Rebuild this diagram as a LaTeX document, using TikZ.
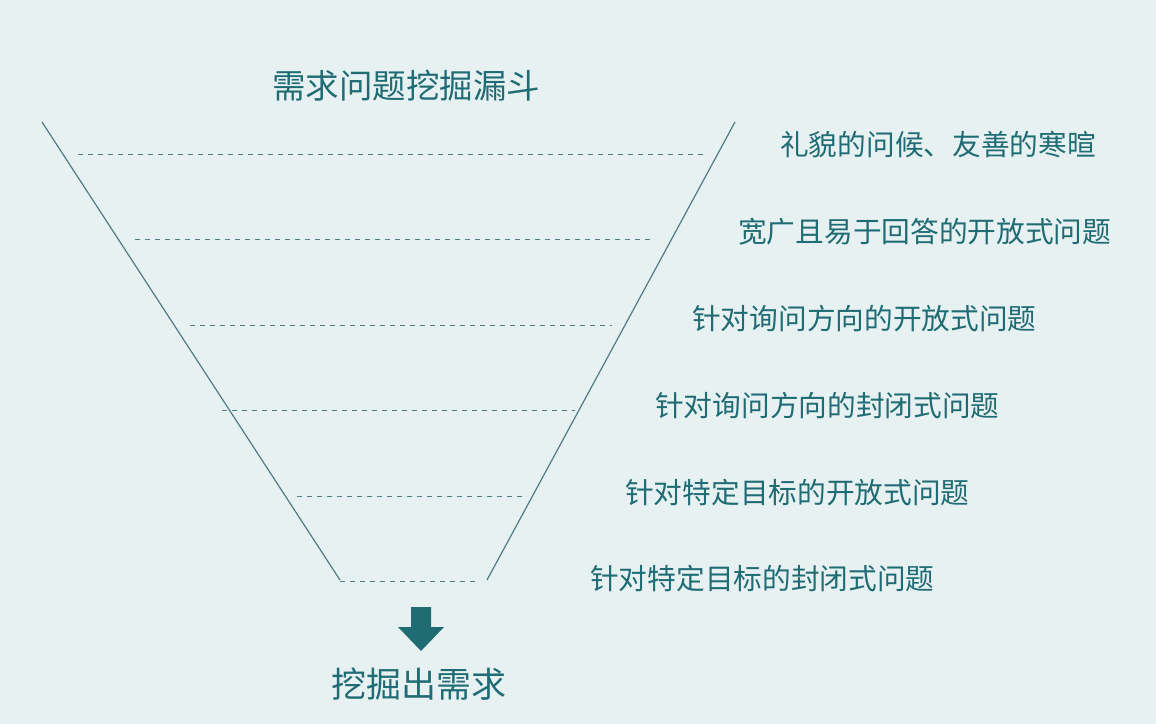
\documentclass[tikz,border=0pt]{standalone}
\usepackage{fontspec}
\newfontfamily\cjk{Noto Sans CJK SC}
\definecolor{bg}{HTML}{E8F1F2}
\definecolor{tc}{HTML}{1F6C74}
\definecolor{lc}{HTML}{4F7C84}
\begin{document}
\begin{tikzpicture}[x=1pt,y=-1pt,
  lbl/.style={anchor=west,text=tc,font=\cjk\fontsize{28.7}{32}\selectfont,inner sep=0},
  fun/.style={draw=lc,line width=1.2pt},
  dsh/.style={draw=lc,line width=1pt,dash pattern=on 5pt off 5pt}]
\fill[bg] (0,0) rectangle (1156,724);
\useasboundingbox (0,0) rectangle (1156,724);
\node[text=tc,font=\cjk\fontsize{33.5}{36}\selectfont,inner sep=0] (title) at (406,86) {需求问题挖掘漏斗};
\coordinate (lt) at (42,122); \coordinate (lb) at (340,580);
\coordinate (rt) at (735,122); \coordinate (rb) at (487,580);
\draw[fun] (lt) -- (lb); \draw[fun] (rt) -- (rb);
\foreach \y/\a/\b/\n in {154/78/705/1,239/135/655/2,325/190/612/3,410/222/575/4,496/297/527/5,581/340/475/6}{
  \coordinate (da\n) at (\a,\y); \coordinate (db\n) at (\b,\y);
  \draw[dsh] (da\n) -- (db\n);}
\node[lbl] (t1) at (780,145) {礼貌的问候、友善的寒暄};
\node[lbl] (t2) at (738,232) {宽广且易于回答的开放式问题};
\node[lbl] (t3) at (692,319) {针对询问方向的开放式问题};
\node[lbl] (t4) at (655,406) {针对询问方向的封闭式问题};
\node[lbl] (t5) at (625,493) {针对特定目标的开放式问题};
\node[lbl] (t6) at (590,579) {针对特定目标的封闭式问题};
\fill[tc] (411,607) -- (431,607) -- (431,627) -- (444,627) -- (421,651) -- (398,627) -- (411,627) -- cycle;
\node[text=tc,font=\cjk\fontsize{35}{38}\selectfont,inner sep=0] (out) at (419,684) {挖掘出需求};
\end{tikzpicture}
\end{document}
